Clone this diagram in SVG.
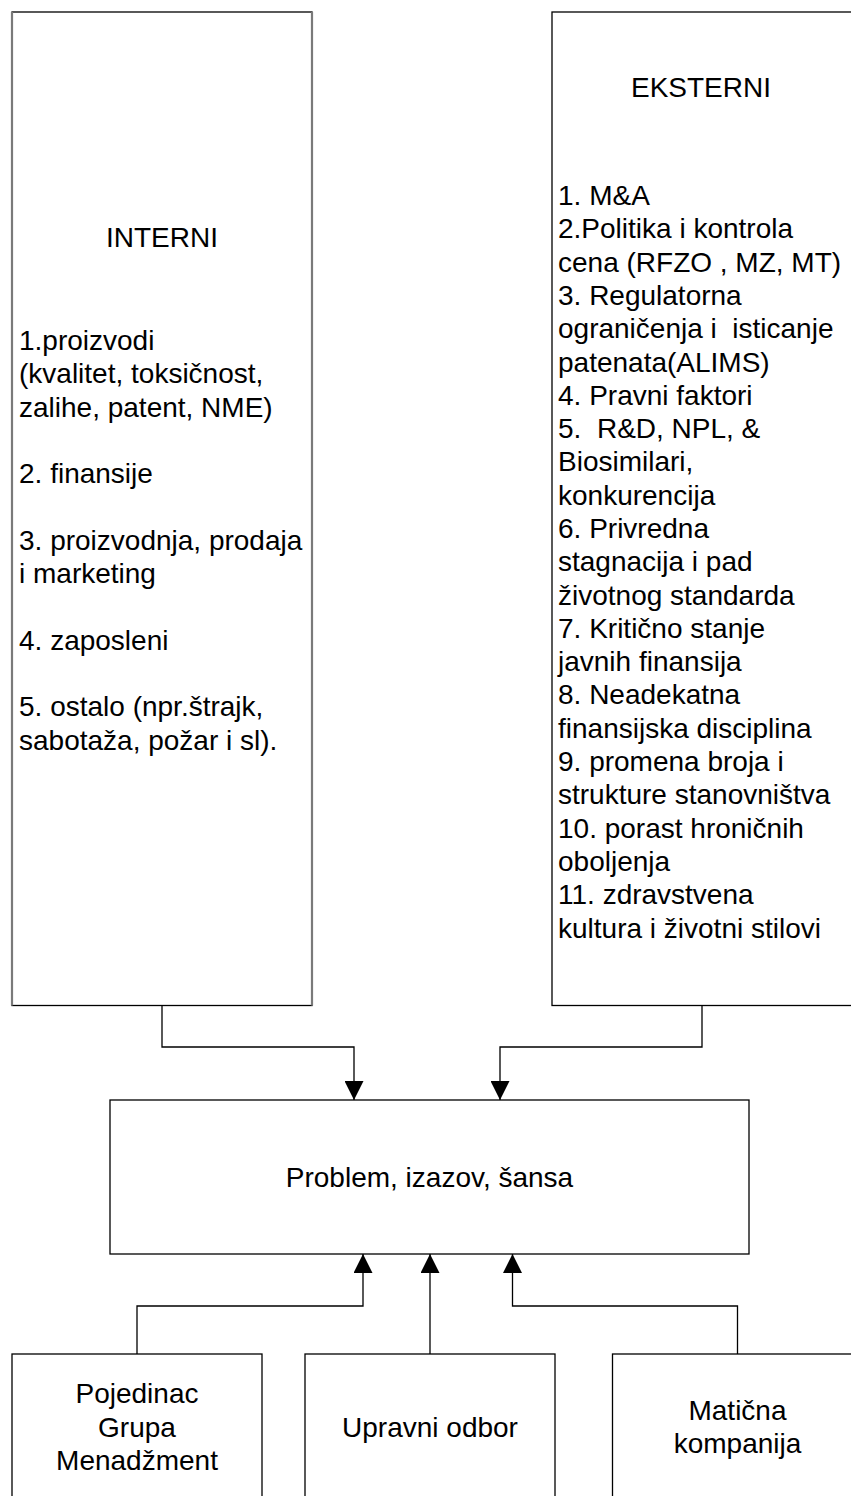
<svg xmlns="http://www.w3.org/2000/svg" width="851" height="1496" viewBox="0 0 851 1496">
  <style>
    .t { font-family: "Liberation Sans", Arial, sans-serif; font-size: 28px; fill: #000; }
    .c { text-anchor: middle; }
    .box { fill: #fff; stroke: #000; stroke-width: 1.3; }
    .side { fill: none; stroke: #7a7a7a; stroke-width: 2.2; }
    .conn { fill: none; stroke: #000; stroke-width: 1.3; }
  </style>
  <defs>
    <marker id="arrow" viewBox="0 0 19 19" refX="19" refY="9.5" markerWidth="19" markerHeight="19" markerUnits="userSpaceOnUse" orient="auto">
      <path d="M0,0 L19,9.5 L0,19 Z" fill="#000"/>
    </marker>
  </defs>
  <rect width="851" height="1496" fill="#fff"/>

  <!-- Internal factors -->
  <g id="interni">
    <rect class="box" x="12" y="12" width="300" height="993.5"/>
    <path class="side" d="M12,12 V1005.5 M312,12 V1005.5"/>
    <text class="t c" x="162" y="247">INTERNI</text>
    <text class="t" x="19" y="350">
      <tspan x="19" y="350">1.proizvodi</tspan>
      <tspan x="19" y="383.3">(kvalitet, toksičnost,</tspan>
      <tspan x="19" y="416.6">zalihe, patent, NME)</tspan>
      <tspan x="19" y="483.2">2. finansije</tspan>
      <tspan x="19" y="549.8">3. proizvodnja, prodaja</tspan>
      <tspan x="19" y="583.1">i marketing</tspan>
      <tspan x="19" y="649.7">4. zaposleni</tspan>
      <tspan x="19" y="716.3">5. ostalo (npr.štrajk,</tspan>
      <tspan x="19" y="749.6">sabotaža, požar i sl).</tspan>
    </text>
  </g>

  <!-- External factors -->
  <g id="eksterni">
    <rect class="box" x="552" y="12" width="300" height="993.5"/>
    <text class="t c" x="701" y="97">EKSTERNI</text>
    <text class="t" x="558" y="205">
      <tspan x="558" y="205">1. M&amp;A</tspan>
      <tspan x="558" dy="33.3">2.Politika i kontrola</tspan>
      <tspan x="558" dy="33.3">cena (RFZO , MZ, MT)</tspan>
      <tspan x="558" dy="33.3">3. Regulatorna</tspan>
      <tspan x="558" dy="33.3">ograničenja i&#160; isticanje</tspan>
      <tspan x="558" dy="33.3">patenata(ALIMS)</tspan>
      <tspan x="558" dy="33.3">4. Pravni faktori</tspan>
      <tspan x="558" dy="33.3">5.&#160; R&amp;D, NPL, &amp;</tspan>
      <tspan x="558" dy="33.3">Biosimilari,</tspan>
      <tspan x="558" dy="33.3">konkurencija</tspan>
      <tspan x="558" dy="33.3">6. Privredna</tspan>
      <tspan x="558" dy="33.3">stagnacija i pad</tspan>
      <tspan x="558" dy="33.3">životnog standarda</tspan>
      <tspan x="558" dy="33.3">7. Kritično stanje</tspan>
      <tspan x="558" dy="33.3">javnih finansija</tspan>
      <tspan x="558" dy="33.3">8. Neadekatna</tspan>
      <tspan x="558" dy="33.3">finansijska disciplina</tspan>
      <tspan x="558" dy="33.3">9. promena broja i</tspan>
      <tspan x="558" dy="33.3">strukture stanovništva</tspan>
      <tspan x="558" dy="33.3">10. porast hroničnih</tspan>
      <tspan x="558" dy="33.3">oboljenja</tspan>
      <tspan x="558" dy="33.3">11. zdravstvena</tspan>
      <tspan x="558" dy="33.3">kultura i životni stilovi</tspan>
    </text>
  </g>

  <!-- Central node -->
  <g id="problem">
    <rect class="box" x="110" y="1100" width="639" height="154"/>
    <text class="t c" x="429.5" y="1187">Problem, izazov, šansa</text>
  </g>

  <!-- Decision makers -->
  <g id="pojedinac">
    <rect class="box" x="12" y="1354" width="250" height="160"/>
    <text class="t c" x="137" y="1403">Pojedinac</text>
    <text class="t c" x="137" y="1437">Grupa</text>
    <text class="t c" x="137" y="1470">Menadžment</text>
  </g>
  <g id="upravni-odbor">
    <rect class="box" x="305" y="1354" width="250" height="160"/>
    <text class="t c" x="430" y="1437">Upravni odbor</text>
  </g>
  <g id="maticna-kompanija">
    <rect class="box" x="612.5" y="1354" width="250" height="160"/>
    <text class="t c" x="737.5" y="1420">Matična</text>
    <text class="t c" x="737.5" y="1453">kompanija</text>
  </g>

  <!-- Connectors -->
  <g id="connectors">
    <path class="conn" d="M162,1005.5 V1047 H354 V1100" marker-end="url(#arrow)"/>
    <path class="conn" d="M702,1005.5 V1047 H500 V1100" marker-end="url(#arrow)"/>
    <path class="conn" d="M137,1354 V1306 H363 V1254" marker-end="url(#arrow)"/>
    <path class="conn" d="M430,1354 V1254" marker-end="url(#arrow)"/>
    <path class="conn" d="M737.5,1354 V1306 H512.5 V1254" marker-end="url(#arrow)"/>
  </g>
</svg>
